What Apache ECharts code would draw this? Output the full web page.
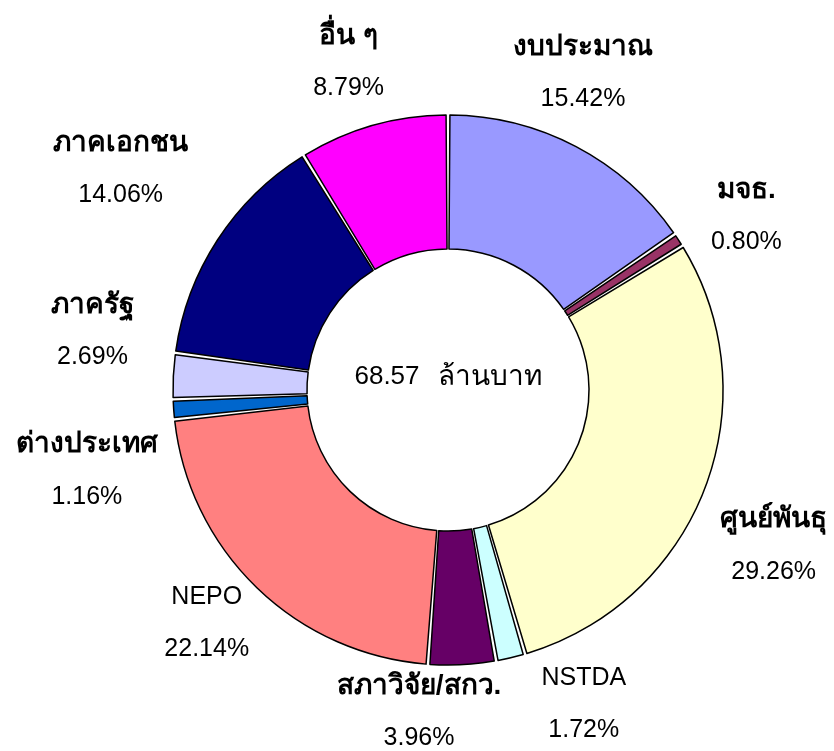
<!DOCTYPE html>
<html>
<head>
<meta charset="utf-8">
<script src="https://cdn.jsdelivr.net/npm/echarts@6/dist/echarts.min.js"></script>
<style>
  html, body { margin: 0; padding: 0; background: #fff; }
  #chart { width: 834px; height: 751px; }
</style>
</head>
<body>
<div id="chart"></div>
<script>
// แหล่งเงินทุน (ร้อยละ)
var names = ['งบประมาณ', 'มจธ.', 'ศูนย์พันธุ', 'NSTDA', 'สภาวิจัย/สกว.', 'NEPO', 'ต่างประเทศ', 'ภาครัฐ', 'ภาคเอกชน', 'อื่น ๆ']
var shares = [15.42, 0.80, 29.26, 1.72, 3.96, 22.14, 1.16, 2.69, 14.06, 8.79]
var totalValue = '68.57'
var totalUnit = 'ล้านบาท'

var colors = ['#9999FF', '#993366', '#FFFFCC', '#CCFFFF', '#660066', '#FF8080', '#0066CC', '#CCCCFF', '#000080', '#FF00FF']
// label nudges (px) after radial placement, like excel spreading small slices
var labelNudge = [[-28, -7], [5, 17], [-1, 30], [56, -27], [-47, -27], [2, -19], [-12, 56], [-6, -41], [-34, -30], [-4, 9]]

var cx = 448
var cy = 390
var labelDist = 350
var font = '"Liberation Sans", Arial, sans-serif'

var sum = shares.reduce(function (a, b) { return a + b }, 0)
var midAngles = []
var acc = 0
shares.forEach(function (v) {
  midAngles.push(90 - (acc + v / 2) / sum * 360)
  acc += v
})

var chart = echarts.init(document.getElementById('chart'))
chart.setOption({
  animation: false,
  color: colors,
  graphic: [{
    type: 'text',
    x: cx,
    y: cy - 13,
    style: {
      text: '{v|' + totalValue + '}{g|}{u|' + totalUnit + '}',
      align: 'center',
      verticalAlign: 'middle',
      rich: {
        v: { fontFamily: font, fontSize: 26, fill: '#000' },
        g: { width: 18 },
        u: { fontFamily: font, fontSize: 28, fill: '#000' }
      }
    }
  }],
  series: [{
    type: 'pie',
    center: [cx, cy],
    radius: [141, 275],
    startAngle: 90,
    clockwise: true,
    padAngle: 0.8,
    avoidLabelOverlap: false,
    itemStyle: {
      borderColor: '#000',
      borderWidth: 1.5
    },
    emphasis: { disabled: true },
    labelLine: { show: false },
    label: {
      show: true,
      position: 'outside',
      formatter: function (p) {
        var key = /^[A-Z]+$/.test(p.name) ? 'r' : 'b'
        return '{' + key + '|' + p.name + '}\n{p|' + p.value.toFixed(2) + '%}'
      },
      rich: {
        b: { fontFamily: font, fontSize: 28, fontWeight: 'bold', color: '#000', lineHeight: 52, align: 'center' },
        r: { fontFamily: font, fontSize: 25, color: '#000', lineHeight: 52, align: 'center' },
        p: { fontFamily: font, fontSize: 25, color: '#000', lineHeight: 52, align: 'center' }
      }
    },
    labelLayout: function (params) {
      var i = params.dataIndex
      var a = midAngles[i] * Math.PI / 180
      return {
        x: cx + labelDist * Math.cos(a) + labelNudge[i][0],
        y: cy - labelDist * Math.sin(a) + labelNudge[i][1],
        align: 'center',
        verticalAlign: 'middle'
      }
    },
    data: names.map(function (n, i) {
      return { name: n, value: shares[i] }
    })
  }]
})
</script>
</body>
</html>
